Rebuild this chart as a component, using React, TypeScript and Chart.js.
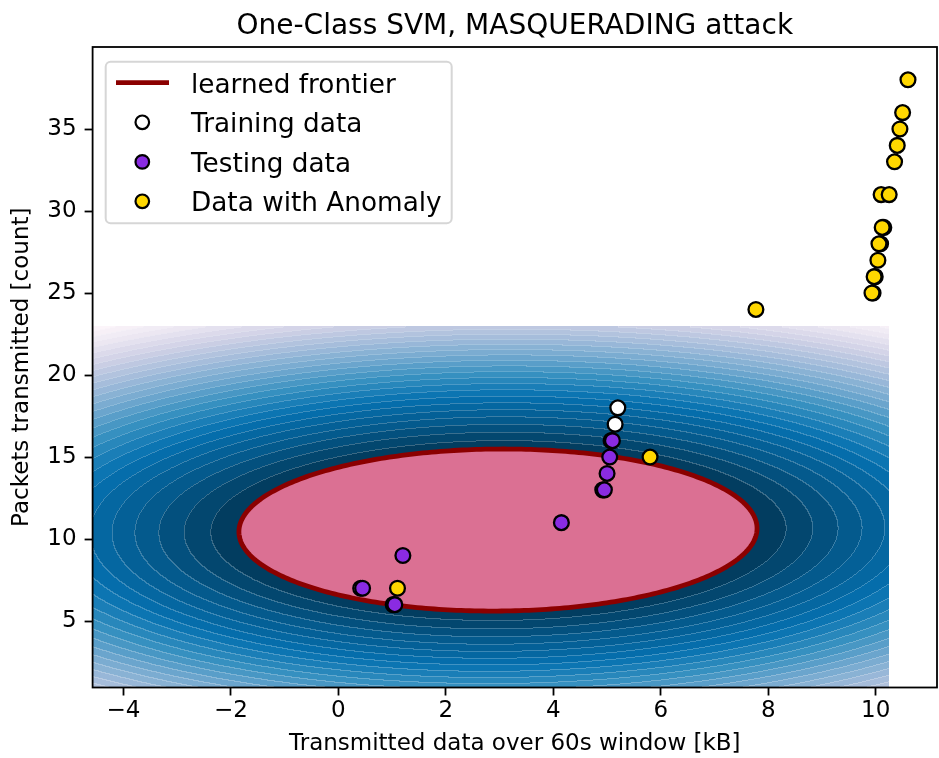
import React, { useEffect, useRef } from 'react';
import { Chart, registerables } from 'chart.js';

Chart.register(...registerables);

const TITLE = 'One-Class SVM, MASQUERADING attack';
const X_LABEL = 'Transmitted data over 60s window [kB]';
const Y_LABEL = 'Packets transmitted [count]';
const X_TICKS = [-4, -2, 0, 2, 4, 6, 8, 10];
const Y_TICKS = [5, 10, 15, 20, 25, 30, 35];
const X_RANGE = [-4.574, 11.14];
const Y_RANGE = [0.95, 40.0];

// Training data (white), partly hidden under testing points
const TRAIN_X = [5.2, 5.15, 5.075, 4.92, 0.415, 1.02];
const TRAIN_Y = [18, 17, 16, 13, 7, 6];
// Testing data (purple)
const TEST_X = [5.1, 5.05, 5.0, 4.95, 4.15, 1.2, 0.45, 1.05];
const TEST_Y = [16, 15, 14, 13, 11, 9, 7, 6];
// Data with anomaly (gold)
const ANOM_X = [10.6, 10.5, 10.45, 10.4, 10.35, 10.1, 10.25, 10.15, 10.12, 10.09, 10.06, 10.04, 9.99, 9.97, 9.95, 9.93, 7.77, 5.8, 1.1];
const ANOM_Y = [38, 36, 35, 34, 33, 31, 31, 29, 29, 28, 28, 27, 26, 26, 25, 25, 24, 15, 7];

// Learned decision function (frontier ellipse + contour field)
const FRONTIER_CENTER = [2.97, 10.55];
const FRONTIER_RADII = [4.82, 4.94];
const FRONTIER_SHEAR = 0.1;
const CONTOUR_X = [-4.574, 10.24];
const CONTOUR_Y = [0.95, 23.0];
const CONTOUR_LEVELS = 28;
const CONTOUR_POWER = 1.7;

const LEGEND_LABELS = ['learned frontier', 'Training data', 'Testing data', 'Data with Anomaly'];

const PUBU = [
  [255, 247, 251], [236, 231, 242], [208, 209, 230], [166, 189, 219], [116, 169, 207],
  [54, 144, 192], [5, 112, 176], [4, 90, 141], [2, 56, 88],
];
function pubu(t: number) {
  const tt = Math.max(0, Math.min(1, t)) * (PUBU.length - 1);
  const i = Math.min(PUBU.length - 2, Math.floor(tt));
  const f = tt - i;
  const a = PUBU[i], b = PUBU[i + 1];
  return [a[0] + (b[0] - a[0]) * f, a[1] + (b[1] - a[1]) * f, a[2] + (b[2] - a[2]) * f];
}

function normDist(x: number, y: number) {
  const dy = (y - FRONTIER_CENTER[1]) / FRONTIER_RADII[1];
  const dx = (x - FRONTIER_CENTER[0] - FRONTIER_SHEAR * dy) / FRONTIER_RADII[0];
  return Math.sqrt(dx * dx + dy * dy);
}

const FONT = 'DejaVu Sans';
const COLORS = { train: '#ffffff', test: '#8a2be2', anom: '#ffd700', frontier: '#8b0000', inside: '#db7093' };

const contourPlugin = {
  id: 'contourField',
  beforeDatasetsDraw(chart: any) {
    const { ctx, scales } = chart;
    const xs = scales.x, ys = scales.y;
    const R0 = (FRONTIER_RADII[0] + FRONTIER_RADII[1]) / 2;
    const u0 = Math.pow(R0, CONTOUR_POWER);
    let umax = 0;
    for (const cx of CONTOUR_X) for (const cy of CONTOUR_Y) {
      umax = Math.max(umax, Math.pow(normDist(cx, cy) * R0, CONTOUR_POWER));
    }
    const px0 = Math.floor(xs.getPixelForValue(CONTOUR_X[0]));
    const px1 = Math.round(xs.getPixelForValue(CONTOUR_X[1]));
    const py0 = Math.round(ys.getPixelForValue(CONTOUR_Y[1]));
    const py1 = Math.ceil(ys.getPixelForValue(CONTOUR_Y[0]));
    const w = px1 - px0, h = py1 - py0;
    const off = document.createElement('canvas');
    off.width = w; off.height = h;
    const octx = off.getContext('2d')!;
    const img = octx.createImageData(w, h);
    const band = new Int16Array(w * h);
    for (let j = 0; j < h; j++) {
      const yv = ys.getValueForPixel(py0 + j + 0.5);
      for (let i = 0; i < w; i++) {
        const xv = xs.getValueForPixel(px0 + i + 0.5);
        const d = normDist(xv, yv);
        if (d < 1) { band[j * w + i] = -1; continue; }
        const u = Math.pow(d * R0, CONTOUR_POWER);
        let k = Math.floor(((u - u0) / (umax - u0)) * CONTOUR_LEVELS);
        k = Math.max(0, Math.min(CONTOUR_LEVELS - 1, k));
        band[j * w + i] = k;
      }
    }
    for (let j = 0; j < h; j++) {
      for (let i = 0; i < w; i++) {
        const k = band[j * w + i];
        const p = (j * w + i) * 4;
        if (k < 0) { img.data[p + 3] = 0; continue; }
        const c = pubu(1 - (k + 0.5) / CONTOUR_LEVELS);
        let seam = false;
        if (i > 0 && band[j * w + i - 1] !== k && band[j * w + i - 1] >= 0) seam = true;
        if (j > 0 && band[(j - 1) * w + i] !== k && band[(j - 1) * w + i] >= 0) seam = true;
        const m = seam ? 0.22 : 0;
        img.data[p] = c[0] + (255 - c[0]) * m;
        img.data[p + 1] = c[1] + (255 - c[1]) * m;
        img.data[p + 2] = c[2] + (255 - c[2]) * m;
        img.data[p + 3] = 255;
      }
    }
    octx.putImageData(img, 0, 0);
    ctx.save();
    ctx.drawImage(off, px0, py0);
    // frontier
    ctx.beginPath();
    const N = 360;
    for (let s = 0; s <= N; s++) {
      const t = (s / N) * Math.PI * 2;
      const xv = FRONTIER_CENTER[0] + FRONTIER_RADII[0] * Math.cos(t) + FRONTIER_SHEAR * Math.sin(t);
      const yv = FRONTIER_CENTER[1] + FRONTIER_RADII[1] * Math.sin(t);
      const X = xs.getPixelForValue(xv), Y = ys.getPixelForValue(yv);
      if (s === 0) ctx.moveTo(X, Y); else ctx.lineTo(X, Y);
    }
    ctx.closePath();
    ctx.fillStyle = COLORS.inside;
    ctx.fill();
    ctx.lineWidth = 4.8;
    ctx.strokeStyle = COLORS.frontier;
    ctx.stroke();
    ctx.restore();
  },
  afterDatasetsDraw(chart: any) {
    const { ctx, chartArea: a } = chart;
    ctx.save();
    ctx.strokeStyle = '#000';
    ctx.lineWidth = 1.8;
    ctx.strokeRect(a.left, a.top, a.right - a.left, a.bottom - a.top);
    ctx.restore();
  },
  afterDraw(chart: any) {
    const { ctx, chartArea: a } = chart;
    ctx.save();
    // title
    ctx.fillStyle = '#000';
    ctx.font = `28px "${FONT}"`;
    ctx.textAlign = 'center';
    ctx.textBaseline = 'alphabetic';
    ctx.fillText(TITLE, (a.left + a.right) / 2, 34);
    // legend
    const bx = 105.7, by = 61.7, bw = 346, bh = 161.6, r = 5;
    ctx.beginPath();
    ctx.moveTo(bx + r, by);
    ctx.arcTo(bx + bw, by, bx + bw, by + bh, r);
    ctx.arcTo(bx + bw, by + bh, bx, by + bh, r);
    ctx.arcTo(bx, by + bh, bx, by, r);
    ctx.arcTo(bx, by, bx + bw, by, r);
    ctx.closePath();
    ctx.fillStyle = 'rgba(255,255,255,0.8)';
    ctx.fill();
    ctx.strokeStyle = 'rgba(204,204,204,0.8)';
    ctx.lineWidth = 2;
    ctx.stroke();
    const rows = [82.7, 122.3, 161.9, 201.3];
    const fills = [null, COLORS.train, COLORS.test, COLORS.anom];
    rows.forEach((ry, idx) => {
      if (idx === 0) {
        ctx.beginPath();
        ctx.moveTo(116, ry);
        ctx.lineTo(169, ry);
        ctx.strokeStyle = COLORS.frontier;
        ctx.lineWidth = 4.8;
        ctx.stroke();
      } else {
        ctx.beginPath();
        ctx.arc(142.3, ry, 6.8, 0, Math.PI * 2);
        ctx.fillStyle = fills[idx] as string;
        ctx.fill();
        ctx.strokeStyle = '#000';
        ctx.lineWidth = 2.2;
        ctx.stroke();
      }
      ctx.fillStyle = '#000';
      ctx.font = `26.3px "${FONT}"`;
      ctx.textAlign = 'left';
      ctx.textBaseline = 'alphabetic';
      ctx.fillText(LEGEND_LABELS[idx], 191, ry + 10);
    });
    ctx.restore();
  },
};

function toPts(xs: number[], ys: number[]) {
  return xs.map((x, i) => ({ x, y: ys[i] }));
}

function fmt(v: number) {
  return v < 0 ? '\u2212' + Math.abs(v) : String(v);
}

export default function App() {
  const ref = useRef<HTMLCanvasElement>(null);
  useEffect(() => {
    document.body.style.margin = '0';
    const canvas = ref.current!;
    const pointStyle = (color: string) => ({
      backgroundColor: color,
      borderColor: '#000',
      borderWidth: 2.3,
      pointRadius: 7.4,
      pointHoverRadius: 7.4,
    });
    const tickFont = { family: FONT, size: 23 };
    const chart = new Chart(canvas, {
      type: 'scatter',
      data: {
        datasets: [
          { label: LEGEND_LABELS[1], data: toPts(TRAIN_X, TRAIN_Y), order: 3, ...pointStyle(COLORS.train) },
          { label: LEGEND_LABELS[2], data: toPts(TEST_X, TEST_Y), order: 2, ...pointStyle(COLORS.test) },
          { label: LEGEND_LABELS[3], data: toPts(ANOM_X, ANOM_Y), order: 1, ...pointStyle(COLORS.anom) },
        ],
      },
      options: {
        responsive: false,
        animation: false,
        devicePixelRatio: 1,
        layout: { autoPadding: false, padding: { top: 47, right: 2, left: 0, bottom: 0 } },
        plugins: { legend: { display: false }, tooltip: { enabled: false }, title: { display: false } },
        scales: {
          x: {
            type: 'linear',
            min: X_RANGE[0],
            max: X_RANGE[1],
            afterFit: (s: any) => { s.height = 70.5; s.paddingLeft = 0; s.paddingRight = 0; },
            afterBuildTicks: (s: any) => { s.ticks = X_TICKS.map((v) => ({ value: v })); },
            grid: { display: true, drawOnChartArea: false, drawTicks: true, tickLength: 8, tickWidth: 1.8, tickColor: '#000' },
            border: { display: false },
            ticks: { color: '#000', font: tickFont, padding: 2, maxRotation: 0, autoSkip: false, callback: (v: any) => fmt(Number(v)) },
            title: { display: true, text: X_LABEL, color: '#000', font: tickFont, padding: { top: 0, bottom: 0 } },
          },
          y: {
            type: 'linear',
            min: Y_RANGE[0],
            max: Y_RANGE[1],
            afterFit: (s: any) => { s.width = 92.6; s.paddingTop = 0; s.paddingBottom = 0; },
            afterBuildTicks: (s: any) => { s.ticks = Y_TICKS.map((v) => ({ value: v })); },
            grid: { display: true, drawOnChartArea: false, drawTicks: true, tickLength: 8, tickWidth: 1.8, tickColor: '#000' },
            border: { display: false },
            ticks: { color: '#000', font: tickFont, padding: 8, autoSkip: false, callback: (v: any) => fmt(Number(v)) },
            title: { display: true, text: Y_LABEL, color: '#000', font: tickFont, padding: { top: 8, bottom: 0 } },
          },
        },
      },
      plugins: [contourPlugin],
    } as any);
    return () => chart.destroy();
  }, []);
  return (
    <div style={{ width: 939, height: 758, background: '#fff' }}>
      <canvas ref={ref} width={939} height={758} style={{ display: 'block', width: 939, height: 758 }} />
    </div>
  );
}
